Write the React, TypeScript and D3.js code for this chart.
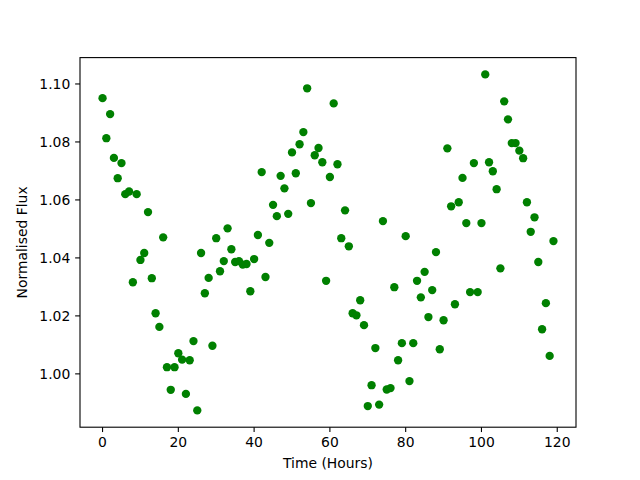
import * as d3 from "d3";

// Hourly readings, hour 0..119
const HOURS = d3.range(0, 120);

const FLUX = [
  1.0951, 1.0813, 1.0896, 1.0745, 1.0675, 1.0727, 1.062, 1.0629, 1.0316, 1.062,
  1.0393, 1.0417, 1.0558, 1.033, 1.0209, 1.0162, 1.0471, 1.0023, 0.9945, 1.0023,
  1.0071, 1.0049, 0.9931, 1.0047, 1.0113, 0.9874, 1.0417, 1.0278, 1.0331, 1.0097,
  1.0468, 1.0354, 1.0389, 1.0502, 1.043, 1.0386, 1.0389, 1.0377, 1.0379, 1.0285,
  1.0396, 1.0479, 1.0696, 1.0334, 1.0452, 1.0583, 1.0544, 1.0683, 1.064, 1.0552,
  1.0764, 1.0692, 1.0792, 1.0834, 1.0985, 1.0589, 1.0754, 1.0779, 1.073, 1.0321,
  1.0679, 1.0933, 1.0723, 1.0468, 1.0564, 1.044, 1.0209, 1.0202, 1.0254, 1.0168,
  0.9889, 0.9961, 1.0089, 0.9894, 1.0527, 0.9946, 0.9951, 1.0299, 1.0047, 1.0106,
  1.0475, 0.9975, 1.0106, 1.0321, 1.0264, 1.0352, 1.0196, 1.0289, 1.042, 1.0085,
  1.0185, 1.0778, 1.0578, 1.024, 1.0592, 1.0676, 1.052, 1.0282, 1.0727, 1.0282,
  1.052, 1.1033, 1.073, 1.0699, 1.0637, 1.0364, 1.094, 1.0878, 1.0796, 1.0796,
  1.077, 1.0744, 1.0592, 1.049, 1.054, 1.0386, 1.0154, 1.0244, 1.0062, 1.0458,
];

const X_TICKS = [0, 20, 40, 60, 80, 100, 120];
const Y_TICKS = [1.0, 1.02, 1.04, 1.06, 1.08, 1.1];

const WIDTH = 640;
const HEIGHT = 480;
const MARGIN = { top: 57.6, right: 64, bottom: 52.8, left: 80 };
const INNER_W = WIDTH - MARGIN.left - MARGIN.right;
const INNER_H = HEIGHT - MARGIN.top - MARGIN.bottom;
const TICK = 4.86;
const FONT = "DejaVu Sans, sans-serif";

// matplotlib-style 5% autoscale margin
function padded(values: number[]): [number, number] {
  const [lo, hi] = d3.extent(values) as [number, number];
  const m = (hi - lo) * 0.05;
  return [lo - m, hi + m];
}

export default function App() {
  const x = d3.scaleLinear().domain(padded(HOURS)).range([0, INNER_W]);
  const y = d3.scaleLinear().domain(padded(FLUX)).range([INNER_H, 0]);

  return (
    <svg
      width={WIDTH}
      height={HEIGHT}
      style={{ position: "absolute", left: 0, top: 0, background: "#fff" }}
      fontFamily={FONT}
    >
      <g transform={`translate(${MARGIN.left},${MARGIN.top})`}>
        {HOURS.map((h, i) => (
          <circle key={h} cx={x(h)} cy={y(FLUX[i])} r={4.17} fill="#008000" />
        ))}
        <rect
          width={INNER_W}
          height={INNER_H}
          fill="none"
          stroke="#000"
          strokeWidth={1.1}
        />
        {X_TICKS.map((t) => (
          <g key={t} transform={`translate(${x(t)},${INNER_H})`}>
            <line y2={TICK} stroke="#000" strokeWidth={1.1} />
            <text
              y={TICK + 4.86}
              dy="0.76em"
              textAnchor="middle"
              fontSize={13.9}
              fill="#000"
            >
              {t}
            </text>
          </g>
        ))}
        {Y_TICKS.map((t) => (
          <g key={t} transform={`translate(0,${y(t)})`}>
            <line x2={-TICK} stroke="#000" strokeWidth={1.1} />
            <text
              x={-TICK - 4.86}
              dy="0.36em"
              textAnchor="end"
              fontSize={13.9}
              fill="#000"
            >
              {t.toFixed(2)}
            </text>
          </g>
        ))}
        <text
          x={INNER_W / 2}
          y={INNER_H + 41}
          textAnchor="middle"
          fontSize={13.9}
          fill="#000"
        >
          Time (Hours)
        </text>
        <text
          transform={`translate(${-53.5},${INNER_H / 2}) rotate(-90)`}
          textAnchor="middle"
          fontSize={13.9}
          fill="#000"
        >
          Normalised Flux
        </text>
      </g>
    </svg>
  );
}
